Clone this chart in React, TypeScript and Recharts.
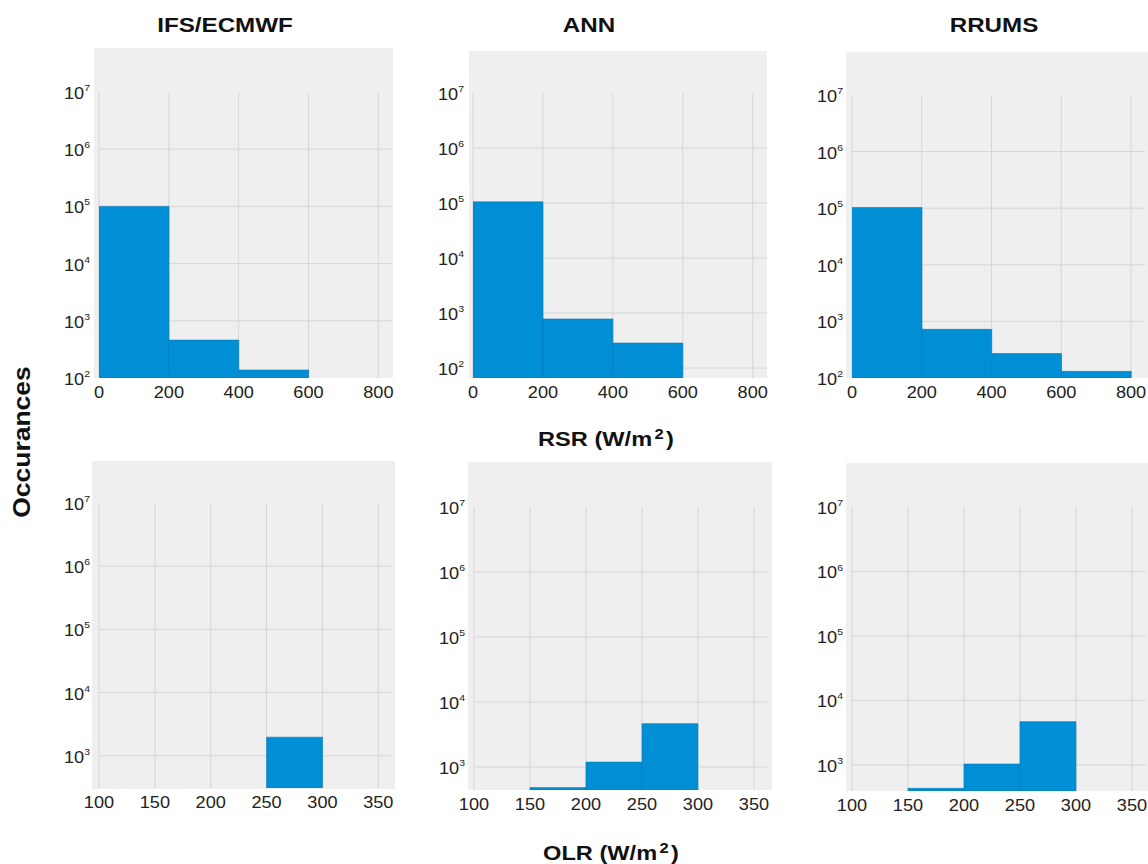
import React from "react";
import { BarChart, Bar, XAxis, YAxis, CartesianGrid } from "recharts";

const BAR_BLUE = "#008fd5";
const BAR_EDGE = "#0a78b4";
const BG_GRAY = "#efefef";
const GRID_GRAY = "#d6d6d6";
const FONT = '"Liberation Sans", Arial, Helvetica, sans-serif';

// RSR histograms: 200 W/m2 wide bins, given by their centres
const rsrBins = [100, 300, 500, 700];
const rsrTicks = [0, 200, 400, 600, 800];
const rsrIfs = [1.0e5, 460, 138, null];
const rsrAnn = [1.05e5, 780, 285, null];
const rsrRrums = [1.03e5, 724, 271, 131];

// OLR histograms: 50 W/m2 wide bins
const olrBins = [125, 175, 225, 275, 325];
const olrTicks = [100, 150, 200, 250, 300, 350];
const olrIfs = [null, null, null, 1970, null];
const olrAnn = [null, 482, 1190, 4650, null];
const olrRrums = [null, 434, 1035, 4700, null];

const rsrLogTicks = [1e2, 1e3, 1e4, 1e5, 1e6, 1e7];
const olrLogTicks = [1e3, 1e4, 1e5, 1e6, 1e7];

const models = ["IFS/ECMWF", "ANN", "RRUMS"];

type Box = { l: number; t: number; r: number; b: number };

interface PanelProps {
  bins: number[];
  values: (number | null)[];
  xTicks: number[];
  xDomain: [number, number];
  yTicks: number[];
  yMin: number;
  plot: Box;
  bg: Box;
}

const Y_W = 60;
const X_H = 30;
const M_TOP = 10;
const M_RIGHT = 6;

function XTick({ x, y, payload }: any) {
  return (
    <g transform={`translate(${x},${y}) scale(1.1,1)`}>
      <text x={0} y={0} dy={12} textAnchor="middle" fontFamily={FONT} fontSize={16.5} fill="#222">
        {payload.value}
      </text>
    </g>
  );
}

function LogTick({ x, y, payload }: any) {
  const exp = Math.round(Math.log10(payload.value));
  return (
    <g transform={`translate(${x - 1},${y}) scale(1.1,1)`}>
      <text x={0} y={0} dy={7} textAnchor="end" fontFamily={FONT} fontSize={16.5} fill="#222">
        <tspan>10</tspan>
        <tspan dy={-8} fontSize={9.5}>
          {exp}
        </tspan>
      </text>
    </g>
  );
}

function Panel({ bins, values, xTicks, xDomain, yTicks, yMin, plot, bg }: PanelProps) {
  const data = bins.map((x, i) => ({ x, count: values[i] }));
  const width = plot.r - plot.l + Y_W + M_RIGHT;
  const height = plot.b - plot.t + M_TOP + X_H;
  return (
    <>
      <div
        style={{
          position: "absolute",
          left: bg.l,
          top: bg.t,
          width: bg.r - bg.l,
          height: bg.b - bg.t,
          background: BG_GRAY,
        }}
      />
      <div style={{ position: "absolute", left: plot.l - Y_W, top: plot.t - M_TOP }}>
        <BarChart
          width={width}
          height={height}
          data={data}
          margin={{ top: M_TOP, right: M_RIGHT, bottom: 0, left: 0 }}
          barCategoryGap={0}
          barGap={0}
        >
          <CartesianGrid
            stroke={GRID_GRAY}
            strokeWidth={1}
            horizontalValues={yTicks.filter((v) => v > yMin && v < 1e7)}
            verticalValues={xTicks}
          />
          <XAxis
            dataKey="x"
            type="number"
            domain={xDomain}
            ticks={xTicks}
            interval={0}
            allowDataOverflow
            axisLine={false}
            tickLine={false}
            tick={<XTick />}
            height={X_H}
          />
          <YAxis
            type="number"
            scale="log"
            domain={[yMin, 1e7]}
            ticks={yTicks}
            interval={0}
            allowDataOverflow
            axisLine={false}
            tickLine={false}
            tick={<LogTick />}
            width={Y_W}
          />
          <Bar dataKey="count" fill={BAR_BLUE} stroke={BAR_EDGE} strokeWidth={0.6} isAnimationActive={false} />
        </BarChart>
      </div>
    </>
  );
}

const panels: PanelProps[] = [
  { bins: rsrBins, values: rsrIfs, xTicks: rsrTicks, xDomain: [0, 840], yTicks: rsrLogTicks, yMin: 100,
    plot: { l: 98.7, t: 92, r: 392, b: 378 }, bg: { l: 94, t: 48, r: 393, b: 378 } },
  { bins: rsrBins, values: rsrAnn, xTicks: rsrTicks, xDomain: [0, 840], yTicks: rsrLogTicks, yMin: 66,
    plot: { l: 473.3, t: 93, r: 767, b: 378 }, bg: { l: 469, t: 51, r: 767, b: 378 } },
  { bins: rsrBins, values: rsrRrums, xTicks: rsrTicks, xDomain: [0, 840], yTicks: rsrLogTicks, yMin: 100,
    plot: { l: 851.7, t: 95, r: 1144.7, b: 378 }, bg: { l: 846, t: 52, r: 1148, b: 378 } },
  { bins: olrBins, values: olrIfs, xTicks: olrTicks, xDomain: [100, 362], yTicks: olrLogTicks, yMin: 309,
    plot: { l: 98.7, t: 503, r: 391.4, b: 788 }, bg: { l: 92, t: 461, r: 395, b: 789 } },
  { bins: olrBins, values: olrAnn, xTicks: olrTicks, xDomain: [100, 362], yTicks: olrLogTicks, yMin: 443,
    plot: { l: 474, t: 507, r: 767.4, b: 790 }, bg: { l: 468, t: 462, r: 772, b: 790 } },
  { bins: olrBins, values: olrRrums, xTicks: olrTicks, xDomain: [100, 362], yTicks: olrLogTicks, yMin: 395,
    plot: { l: 852, t: 507, r: 1145.4, b: 791 }, bg: { l: 846, t: 463, r: 1148, b: 791 } },
];

const titleCentres = [225, 589, 994];

function Label({ cx, cy, size, rotate, stretch, children }: any) {
  return (
    <div
      style={{
        position: "absolute",
        left: cx,
        top: cy,
        transform: `translate(-50%, -50%) rotate(${rotate || 0}deg) scaleX(${stretch || 1})`,
        fontFamily: FONT,
        fontWeight: "bold",
        fontSize: size,
        lineHeight: 1,
        whiteSpace: "nowrap",
        color: "#111",
      }}
    >
      {children}
    </div>
  );
}

export default function App() {
  return (
    <div
      style={{
        position: "absolute",
        left: 0,
        top: 0,
        width: 1148,
        height: 864,
        background: "#fff",
        overflow: "hidden",
      }}
    >
      {panels.map((p, i) => (
        <Panel key={i} {...p} />
      ))}
      {models.map((m, i) => (
        <Label key={m} cx={titleCentres[i]} cy={24} size={21} stretch={1.15}>
          {m}
        </Label>
      ))}
      <Label cx={606} cy={438} size={20} stretch={1.18}>
        RSR (W/m<sup style={{ fontSize: 14, verticalAlign: "7px", margin: "0 2px" }}>2</sup>)
      </Label>
      <Label cx={611} cy={852} size={20} stretch={1.18}>
        OLR (W/m<sup style={{ fontSize: 14, verticalAlign: "7px", margin: "0 2px" }}>2</sup>)
      </Label>
      <Label cx={22} cy={442} size={23} rotate={-90} stretch={1.15}>
        Occurances
      </Label>
    </div>
  );
}
